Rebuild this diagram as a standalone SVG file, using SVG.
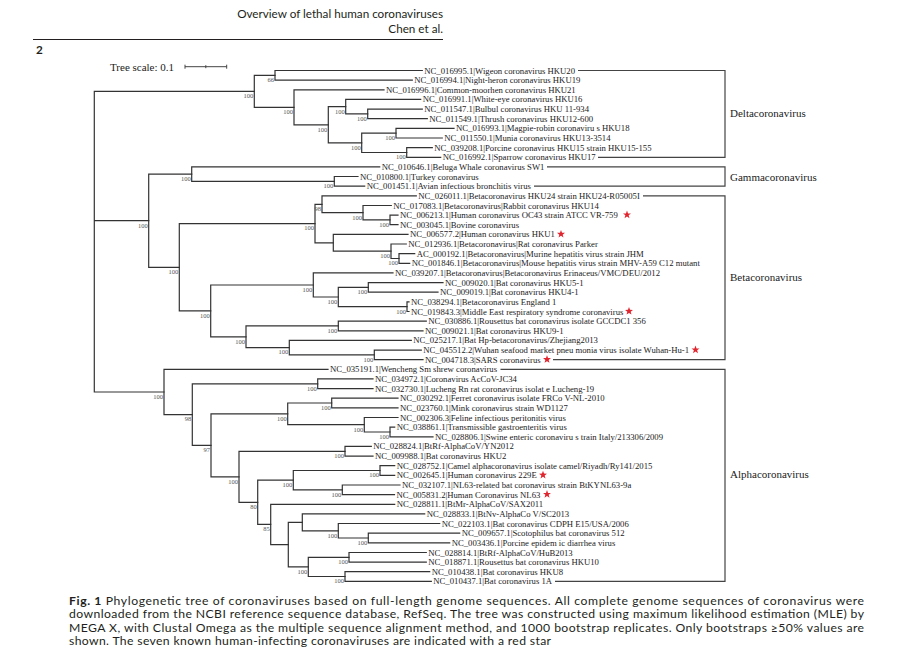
<svg xmlns="http://www.w3.org/2000/svg" width="900" height="661" viewBox="0 0 900 661">
<style>
.br{fill:none;stroke:#333;stroke-width:1.2;stroke-linecap:square}
.bk{fill:none;stroke:#444;stroke-width:1.2}
.lf{font-family:"Liberation Serif","Times New Roman",serif;font-size:8.7px;fill:#222}
.bs{font-family:"Liberation Serif","Times New Roman",serif;font-size:6.5px;fill:#555;text-anchor:end}
.cl{font-family:"Liberation Serif","Times New Roman",serif;font-size:11px;fill:#222}
.cap{font-family:Lato,"Liberation Sans",Arial,sans-serif;font-size:12.2px;fill:#231f20}
.hd{font-family:Lato,"Liberation Sans",Arial,sans-serif;font-size:11.7px;fill:#231f20}
.st{fill:#e0262f}
</style>
<defs>
<polygon id="star" class="st" points="0,-4.2 1.03,-1.42 3.99,-1.3 1.66,0.54 2.47,3.4 0,1.75 -2.47,3.4 -1.66,0.54 -3.99,-1.3 -1.03,-1.42"/>
</defs>
<rect width="900" height="661" fill="#fff"/>

<g id="header">
<text class="hd" x="443" y="18" text-anchor="end">Overview of lethal human coronaviruses</text>
<text class="hd" x="443" y="32.5" text-anchor="end">Chen et al.</text>
<line x1="33" y1="39.5" x2="443" y2="39.5" stroke="#231f20" stroke-width="1.2"/>
<text class="hd" x="36" y="53.5" font-weight="bold" font-size="12.5">2</text>
</g>

<g id="scale">
<text class="cl" x="110" y="70.5">Tree scale: 0.1</text>
<path d="M185 66.7H226.7M185 64.7V68.7M205.8 65.2V68.2M226.7 64.7V68.7" fill="none" stroke="#444" stroke-width="1"/>
</g>

<g id="connectors">
<path class="br" d="M94.3 91.3V392M94.3 91.3H254.3M94.3 220.7H148.7M94.3 392H164"/>
<path class="br" d="M254.3 75.3V107.3M254.3 75.3H275M254.3 107.3H294"/>
<path class="br" d="M275 70.5V80.1M275 70.5H422.3M275 80.1H412.3"/>
<path class="br" d="M294 89.8V124.8M294 89.8H384M294 124.8H328.3"/>
<path class="br" d="M328.3 106.7V142.9M328.3 106.7H345.7M328.3 142.9H361.7"/>
<path class="br" d="M345.7 99.4V113.9M345.7 99.4H420.7M345.7 113.9H367.7"/>
<path class="br" d="M367.7 109.1V118.7M367.7 109.1H422.3M367.7 118.7H427.3"/>
<path class="br" d="M361.7 133.2V152.5M361.7 133.2H396M361.7 152.5H406.7"/>
<path class="br" d="M396 128.3V138M396 128.3H454M396 138H442.3"/>
<path class="br" d="M406.7 147.6V157.3M406.7 147.6H432.3M406.7 157.3H440.7"/>
<path class="br" d="M148.7 174.1V267.3M148.7 174.1H191.7M148.7 267.3H179.3"/>
<path class="br" d="M191.7 166.9V181.4M191.7 166.9H379.7M191.7 181.4H334.3"/>
<path class="br" d="M334.3 176.5V186.2M334.3 176.5H358M334.3 186.2H364.7"/>
<path class="br" d="M179.3 223.6V310.9M179.3 223.6H315M179.3 310.9H210.7"/>
<path class="br" d="M315 204.3V242.8M315 204.3H322M315 242.8H333.3"/>
<path class="br" d="M322 195.8V212.7M322 195.8H416.3M322 212.7H363"/>
<path class="br" d="M363 205.5V219.9M363 205.5H391.3M363 219.9H390"/>
<path class="br" d="M390 215.1V224.7M390 215.1H398M390 224.7H398"/>
<path class="br" d="M333.3 234.4V251.2M333.3 234.4H408M333.3 251.2H391"/>
<path class="br" d="M391 244V258.5M391 244H406.3M391 258.5H399"/>
<path class="br" d="M399 253.7V263.3M399 253.7H414.7M399 263.3H409.7"/>
<path class="br" d="M210.7 285V336.8M210.7 285H313.3M210.7 336.8H246"/>
<path class="br" d="M313.3 272.9V297M313.3 272.9H393M313.3 297H338.3"/>
<path class="br" d="M338.3 287.4V306.7M338.3 287.4H368.3M338.3 306.7H407"/>
<path class="br" d="M368.3 282.6V292.2M368.3 282.6H443M368.3 292.2H438"/>
<path class="br" d="M407 301.9V311.5M407 301.9H409M407 311.5H409"/>
<path class="br" d="M246 325.9V347.6M246 325.9H338.3M246 347.6H289.3"/>
<path class="br" d="M338.3 321.1V330.8M338.3 321.1H426.3M338.3 330.8H423"/>
<path class="br" d="M289.3 340.4V354.9M289.3 340.4H411.3M289.3 354.9H374.3"/>
<path class="br" d="M374.3 350.1V359.7M374.3 350.1H421.3M374.3 359.7H423"/>
<path class="br" d="M164 369.3V414.6M164 369.3H328M164 414.6H192.3"/>
<path class="br" d="M192.3 383.8V445.4M192.3 383.8H317.7M192.3 445.4H211"/>
<path class="br" d="M317.7 378.9V388.6M317.7 378.9H373M317.7 388.6H373"/>
<path class="br" d="M211 413.9V476.8M211 413.9H287.7M211 476.8H239"/>
<path class="br" d="M287.7 403V424.7M287.7 403H331.7M287.7 424.7H364.3"/>
<path class="br" d="M331.7 398.2V407.9M331.7 398.2H398M331.7 407.9H398"/>
<path class="br" d="M364.3 417.5V432M364.3 417.5H398M364.3 432H390"/>
<path class="br" d="M390 427.1V436.8M390 427.1H394.7M390 436.8H433"/>
<path class="br" d="M239 451.3V502.3M239 451.3H345M239 502.3H257.7"/>
<path class="br" d="M345 446.4V456.1M345 446.4H371.3M345 456.1H373"/>
<path class="br" d="M257.7 480.2V524.4M257.7 480.2H293.3M257.7 524.4H270.7"/>
<path class="br" d="M293.3 470.5V489.8M293.3 470.5H380M293.3 489.8H342.3"/>
<path class="br" d="M380 465.7V475.3M380 465.7H394.7M380 475.3H394.7"/>
<path class="br" d="M342.3 485V494.6M342.3 485H400M342.3 494.6H394.5"/>
<path class="br" d="M270.7 504.3V544.6M270.7 504.3H394.7M270.7 544.6H288.3"/>
<path class="br" d="M288.3 522.3V566.9M288.3 522.3H302.3M288.3 566.9H308.3"/>
<path class="br" d="M302.3 513.9V530.8M302.3 513.9H424.7M302.3 530.8H338.3"/>
<path class="br" d="M338.3 523.5V538M338.3 523.5H439.7M338.3 538H368.3"/>
<path class="br" d="M368.3 533.2V542.8M368.3 533.2H459.7M368.3 542.8H449.7"/>
<path class="br" d="M308.3 557.3V576.5M308.3 557.3H349M308.3 576.5H345"/>
<path class="br" d="M349 552.5V562.1M349 552.5H426.3M349 562.1H426.3"/>
<path class="br" d="M345 571.7V581.4M345 571.7H429.7M345 581.4H431.3"/>
<path class="bk" d="M578 70.5H725V157.3H598"/>
<path class="bk" d="M547 166.9H725V186.2H534"/>
<path class="bk" d="M643 195.8H725V359.7H553"/>
<path class="bk" d="M500.5 369.3H725V581.4H555"/>
</g>

<g id="bootstrap">
<text class="bs" x="253.3" y="98.1">100</text>
<text class="bs" x="274" y="82.1">66</text>
<text class="bs" x="293" y="114.1">100</text>
<text class="bs" x="327.3" y="131.6">100</text>
<text class="bs" x="344.7" y="113.5">100</text>
<text class="bs" x="366.7" y="120.7">100</text>
<text class="bs" x="360.7" y="149.7">100</text>
<text class="bs" x="395" y="140">100</text>
<text class="bs" x="405.7" y="159.3">100</text>
<text class="bs" x="147.7" y="227.5">100</text>
<text class="bs" x="190.7" y="180.9">100</text>
<text class="bs" x="333.3" y="188.2">100</text>
<text class="bs" x="178.3" y="274.1">100</text>
<text class="bs" x="314" y="230.3">100</text>
<text class="bs" x="321" y="211.1">98</text>
<text class="bs" x="362" y="219.5">100</text>
<text class="bs" x="389" y="226.7">100</text>
<text class="bs" x="390" y="258">100</text>
<text class="bs" x="398" y="265.3">100</text>
<text class="bs" x="209.7" y="317.7">100</text>
<text class="bs" x="312.3" y="291.8">100</text>
<text class="bs" x="337.3" y="303.8">100</text>
<text class="bs" x="367.3" y="294.2">100</text>
<text class="bs" x="406" y="313.5">100</text>
<text class="bs" x="245" y="343.6">100</text>
<text class="bs" x="337.3" y="332.7">100</text>
<text class="bs" x="288.3" y="354.4">100</text>
<text class="bs" x="373.3" y="361.7">100</text>
<text class="bs" x="163" y="398.7">100</text>
<text class="bs" x="191.3" y="421.3">98</text>
<text class="bs" x="316.7" y="390.5">100</text>
<text class="bs" x="210" y="452.1">97</text>
<text class="bs" x="286.7" y="420.7">100</text>
<text class="bs" x="330.7" y="409.8">100</text>
<text class="bs" x="363.3" y="431.5">100</text>
<text class="bs" x="389" y="438.8">100</text>
<text class="bs" x="238" y="483.6">100</text>
<text class="bs" x="344" y="458">100</text>
<text class="bs" x="256.7" y="509.1">80</text>
<text class="bs" x="292.3" y="487">100</text>
<text class="bs" x="379" y="477.3">100</text>
<text class="bs" x="341.3" y="496.6">100</text>
<text class="bs" x="269.7" y="531.2">85</text>
<text class="bs" x="337.3" y="537.5">100</text>
<text class="bs" x="367.3" y="544.8">100</text>
<text class="bs" x="307.3" y="573.7">100</text>
<text class="bs" x="348" y="564.1">100</text>
<text class="bs" x="344" y="583.4">100</text>
</g>

<g id="leaves">
<g id="leaf-NC_016995"><text class="lf" x="424.3" y="73.5">NC_016995.1|Wigeon coronavirus HKU20</text></g>
<g id="leaf-NC_016994"><text class="lf" x="414.3" y="83.1">NC_016994.1|Night-heron coronavirus HKU19</text></g>
<g id="leaf-NC_016996"><text class="lf" x="386" y="92.8">NC_016996.1|Common-moorhen coronavirus HKU21</text></g>
<g id="leaf-NC_016991"><text class="lf" x="422.7" y="102.4">NC_016991.1|White-eye coronavirus HKU16</text></g>
<g id="leaf-NC_011547"><text class="lf" x="424.3" y="112.1">NC_011547.1|Bulbul coronavirus HKU 11-934</text></g>
<g id="leaf-NC_011549"><text class="lf" x="429.3" y="121.7">NC_011549.1|Thrush coronavirus HKU12-600</text></g>
<g id="leaf-NC_016993"><text class="lf" x="456" y="131.3">NC_016993.1|Magpie-robin coronaviru s HKU18</text></g>
<g id="leaf-NC_011550"><text class="lf" x="444.3" y="141">NC_011550.1|Munia coronavirus HKU13-3514</text></g>
<g id="leaf-NC_039208"><text class="lf" x="434.3" y="150.6">NC_039208.1|Porcine coronavirus HKU15 strain HKU15-155</text></g>
<g id="leaf-NC_016992"><text class="lf" x="442.7" y="160.3">NC_016992.1|Sparrow coronavirus HKU17</text></g>
<g id="leaf-NC_010646"><text class="lf" x="381.7" y="169.9">NC_010646.1|Beluga Whale coronavirus SW1</text></g>
<g id="leaf-NC_010800"><text class="lf" x="360" y="179.5">NC_010800.1|Turkey coronavirus</text></g>
<g id="leaf-NC_001451"><text class="lf" x="366.7" y="189.2">NC_001451.1|Avian infectious bronchitis virus</text></g>
<g id="leaf-NC_026011"><text class="lf" x="418.3" y="198.8">NC_026011.1|Betacoronavirus HKU24 strain HKU24-R05005I</text></g>
<g id="leaf-NC_017083"><text class="lf" x="393.3" y="208.5">NC_017083.1|Betacoronavirus|Rabbit coronavirus HKU14</text></g>
<g id="leaf-NC_006213"><text class="lf" x="400" y="218.1">NC_006213.1|Human coronavirus OC43 strain ATCC VR-759</text><use href="#star" x="627" y="214.8"/></g>
<g id="leaf-NC_003045"><text class="lf" x="400" y="227.7">NC_003045.1|Bovine coronavirus</text></g>
<g id="leaf-NC_006577"><text class="lf" x="410" y="237.4">NC_006577.2|Human coronavirus HKU1</text><use href="#star" x="561" y="234.1"/></g>
<g id="leaf-NC_012936"><text class="lf" x="408.3" y="247">NC_012936.1|Betacoronavirus|Rat coronavirus Parker</text></g>
<g id="leaf-AC_000192"><text class="lf" x="416.7" y="256.7">AC_000192.1|Betacoronavirus|Murine hepatitis virus strain JHM</text></g>
<g id="leaf-NC_001846"><text class="lf" x="411.7" y="266.3">NC_001846.1|Betacoronavirus|Mouse hepatitis virus strain MHV-A59 C12 mutant</text></g>
<g id="leaf-NC_039207"><text class="lf" x="395" y="275.9">NC_039207.1|Betacoronavirus|Betacoronavirus Erinaceus/VMC/DEU/2012</text></g>
<g id="leaf-NC_009020"><text class="lf" x="445" y="285.6">NC_009020.1|Bat coronavirus HKU5-1</text></g>
<g id="leaf-NC_009019"><text class="lf" x="440" y="295.2">NC_009019.1|Bat coronavirus HKU4-1</text></g>
<g id="leaf-NC_038294"><text class="lf" x="411" y="304.9">NC_038294.1|Betacoronavirus England 1</text></g>
<g id="leaf-NC_019843"><text class="lf" x="411" y="314.5">NC_019843.3|Middle East respiratory syndrome coronavirus</text><use href="#star" x="629" y="311.2"/></g>
<g id="leaf-NC_030886"><text class="lf" x="428.3" y="324.1">NC_030886.1|Rousettus bat coronavirus isolate GCCDC1 356</text></g>
<g id="leaf-NC_009021"><text class="lf" x="425" y="333.8">NC_009021.1|Bat coronavirus HKU9-1</text></g>
<g id="leaf-NC_025217"><text class="lf" x="413.3" y="343.4">NC_025217.1|Bat Hp-betacoronavirus/Zhejiang2013</text></g>
<g id="leaf-NC_045512"><text class="lf" x="423.3" y="353.1">NC_045512.2|Wuhan seafood market pneu monia virus isolate Wuhan-Hu-1</text><use href="#star" x="695.5" y="349.8"/></g>
<g id="leaf-NC_004718"><text class="lf" x="425" y="362.7">NC_004718.3|SARS coronavirus</text><use href="#star" x="547" y="359.4"/></g>
<g id="leaf-NC_035191"><text class="lf" x="330" y="372.3">NC_035191.1|Wencheng Sm shrew coronavirus</text></g>
<g id="leaf-NC_034972"><text class="lf" x="375" y="381.9">NC_034972.1|Coronavirus AcCoV-JC34</text></g>
<g id="leaf-NC_032730"><text class="lf" x="375" y="391.6">NC_032730.1|Lucheng Rn rat coronavirus isolat e Lucheng-19</text></g>
<g id="leaf-NC_030292"><text class="lf" x="400" y="401.2">NC_030292.1|Ferret coronavirus isolate FRCo V-NL-2010</text></g>
<g id="leaf-NC_023760"><text class="lf" x="400" y="410.9">NC_023760.1|Mink coronavirus strain WD1127</text></g>
<g id="leaf-NC_002306"><text class="lf" x="400" y="420.5">NC_002306.3|Feline infectious peritonitis virus</text></g>
<g id="leaf-NC_038861"><text class="lf" x="396.7" y="430.1">NC_038861.1|Transmissible gastroenteritis virus</text></g>
<g id="leaf-NC_028806"><text class="lf" x="435" y="439.8">NC_028806.1|Swine enteric coronaviru s train Italy/213306/2009</text></g>
<g id="leaf-NC_028824"><text class="lf" x="373.3" y="449.4">NC_028824.1|BtRf-AlphaCoV/YN2012</text></g>
<g id="leaf-NC_009988"><text class="lf" x="375" y="459.1">NC_009988.1|Bat coronavirus HKU2</text></g>
<g id="leaf-NC_028752"><text class="lf" x="396.7" y="468.7">NC_028752.1|Camel alphacoronavirus isolate camel/Riyadh/Ry141/2015</text></g>
<g id="leaf-NC_002645"><text class="lf" x="396.7" y="478.3">NC_002645.1|Human coronavirus 229E</text><use href="#star" x="543" y="475"/></g>
<g id="leaf-NC_032107"><text class="lf" x="402" y="488">NC_032107.1|NL63-related bat coronavirus strain BtKYNL63-9a</text></g>
<g id="leaf-NC_005831"><text class="lf" x="396.5" y="497.6">NC_005831.2|Human Coronavirus NL63</text><use href="#star" x="547" y="494.3"/></g>
<g id="leaf-NC_028811"><text class="lf" x="396.7" y="507.3">NC_028811.1|BtMr-AlphaCoV/SAX2011</text></g>
<g id="leaf-NC_028833"><text class="lf" x="426.7" y="516.9">NC_028833.1|BtNv-AlphaCo V/SC2013</text></g>
<g id="leaf-NC_022103"><text class="lf" x="441.7" y="526.5">NC_022103.1|Bat coronavirus CDPH E15/USA/2006</text></g>
<g id="leaf-NC_009657"><text class="lf" x="461.7" y="536.2">NC_009657.1|Scotophilus bat coronavirus 512</text></g>
<g id="leaf-NC_003436"><text class="lf" x="451.7" y="545.8">NC_003436.1|Porcine epidem ic diarrhea virus</text></g>
<g id="leaf-NC_028814"><text class="lf" x="428.3" y="555.5">NC_028814.1|BtRf-AlphaCoV/HuB2013</text></g>
<g id="leaf-NC_018871"><text class="lf" x="428.3" y="565.1">NC_018871.1|Rousettus bat coronavirus HKU10</text></g>
<g id="leaf-NC_010438"><text class="lf" x="431.7" y="574.7">NC_010438.1|Bat coronavirus HKU8</text></g>
<g id="leaf-NC_010437"><text class="lf" x="433.3" y="584.4">NC_010437.1|Bat coronavirus 1A</text></g>
</g>

<g id="clades">
<g id="clade-delta"><text class="cl" x="730" y="117">Deltacoronavirus</text></g>
<g id="clade-gamma"><text class="cl" x="730" y="180.5">Gammacoronavirus</text></g>
<g id="clade-beta"><text class="cl" x="730" y="281">Betacoronavirus</text></g>
<g id="clade-alpha"><text class="cl" x="730" y="478">Alphacoronavirus</text></g>
</g>

<g id="caption">
<text class="cap" x="69" y="604.5" textLength="795" lengthAdjust="spacing"><tspan font-weight="bold">Fig. 1</tspan>   Phylogenetic tree of coronaviruses based on full-length genome sequences. All complete genome sequences of coronavirus were</text>
<text class="cap" x="69" y="618" textLength="795" lengthAdjust="spacing">downloaded from the NCBI reference sequence database, RefSeq. The tree was constructed using maximum likelihood estimation (MLE) by</text>
<text class="cap" x="69" y="631.5" textLength="795" lengthAdjust="spacing">MEGA X, with Clustal Omega as the multiple sequence alignment method, and 1000 bootstrap replicates. Only bootstraps ≥50% values are</text>
<text class="cap" x="69" y="645" textLength="482" lengthAdjust="spacing">shown. The seven known human-infecting coronaviruses are indicated with a red star</text>
</g>
</svg>
